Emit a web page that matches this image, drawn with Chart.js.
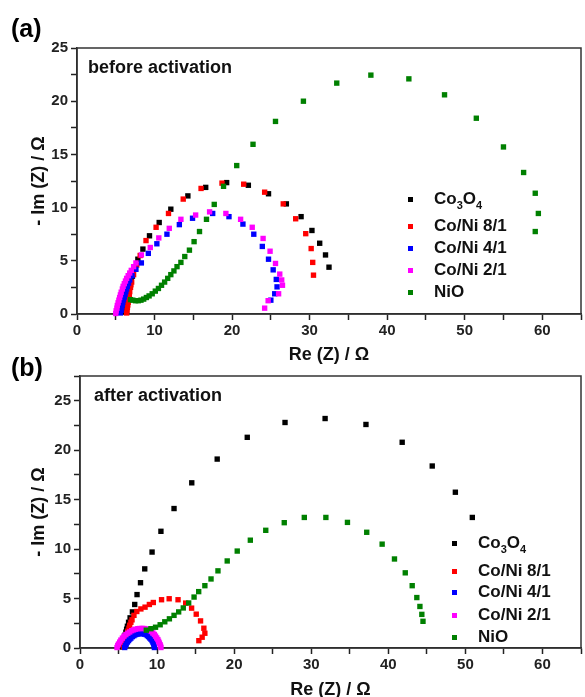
<!DOCTYPE html>
<html>
<head>
<meta charset="utf-8">
<script src="https://cdn.jsdelivr.net/npm/chart.js@4.4.1/dist/chart.umd.min.js"></script>
<style>
body { margin: 0; width: 585px; height: 697px; overflow: hidden; background: #fff; position: relative; font-family: "Liberation Sans", Arial, sans-serif; color: #111; }
.panel { position: absolute; left: 0; width: 585px; }
.tag { position: absolute; font-weight: bold; font-size: 25px; line-height: 1; color: #000; }
.cond { position: absolute; font-weight: bold; font-size: 18px; line-height: 1; }
.row { position: absolute; font-weight: bold; font-size: 17px; line-height: 1; white-space: nowrap; }
.row sub { font-size: 11px; vertical-align: -5px; line-height: 0; }
.mk { position: absolute; width: 5px; height: 5px; }
</style>
</head>
<body>
<div class="panel" style="top:0;height:370px"><canvas id="chartA"></canvas></div>
<div class="panel" style="top:345px;height:360px"><canvas id="chartB"></canvas></div>
<div class="tag" style="left:11px;top:16px">(a)</div>
<div class="tag" style="left:11px;top:355px">(b)</div>
<div class="cond" style="left:88px;top:58px">before activation</div>
<div class="cond" style="left:94px;top:386px">after activation</div>
<div id="legA"></div>
<div id="legB"></div>
<script>
// series names / colours
const names = ['Co<sub>3</sub>O<sub>4</sub>', 'Co/Ni 8/1', 'Co/Ni 4/1', 'Co/Ni 2/1', 'NiO'];
const plain = ['Co3O4', 'Co/Ni 8/1', 'Co/Ni 4/1', 'Co/Ni 2/1', 'NiO'];
const colors = ['#000000', '#ff0000', '#0000ff', '#ff00ff', '#008000'];

// (a) before activation: [Re(Z), -Im(Z)]
const a_Co3O4 = [[6.2,0.2],[6.3,0.5],[6.35,0.8],[6.45,1.1],[6.5,1.4],[6.6,1.7],[6.65,2.0],[6.75,2.3],[6.85,2.7],[7.0,3.1],[7.15,3.55],[7.45,4.3],[7.85,5.15],[8.5,6.1],[9.35,7.35],[10.6,8.6],[12.1,9.85],[14.3,11.1],[16.6,11.9],[19.3,12.35],[22.1,12.1],[24.7,11.3],[27.0,10.35],[28.9,9.15],[30.3,7.85],[31.3,6.65],[32.05,5.55],[32.5,4.4]];
const a_CoNi81 = [[6.4,0.1],[6.45,0.35],[6.5,0.6],[6.55,0.85],[6.6,1.1],[6.65,1.35],[6.7,1.6],[6.75,1.85],[6.8,2.1],[6.9,2.5],[6.95,2.75],[7.05,3.0],[7.3,3.7],[7.7,4.6],[8.15,5.5],[8.9,6.9],[10.2,8.15],[11.8,9.45],[13.7,10.8],[16.0,11.8],[18.7,12.3],[21.5,12.2],[24.2,11.45],[26.6,10.35],[28.2,8.95],[29.5,7.55],[30.2,6.15],[30.4,4.85],[30.5,3.65]];
const a_CoNi41 = [[5.6,0.1],[5.7,0.35],[5.75,0.6],[5.85,0.85],[5.9,1.1],[6.0,1.35],[6.1,1.6],[6.2,1.85],[6.3,2.1],[6.4,2.35],[6.5,2.6],[6.65,2.9],[6.8,3.2],[7.1,3.6],[7.6,4.2],[8.3,4.8],[9.2,5.7],[10.3,6.6],[11.6,7.5],[13.2,8.4],[14.9,9.0],[17.5,9.45],[19.6,9.15],[21.4,8.45],[22.8,7.5],[23.9,6.35],[24.7,5.15],[25.3,4.15],[25.7,3.25],[25.8,2.55],[25.5,1.9],[25.0,1.3]];
const a_CoNi21 = [[5.0,0.05],[5.05,0.3],[5.15,0.55],[5.2,0.8],[5.3,1.05],[5.4,1.3],[5.5,1.55],[5.6,1.8],[5.7,2.05],[5.85,2.35],[5.95,2.6],[6.1,2.85],[6.25,3.1],[6.4,3.35],[6.6,3.6],[6.8,3.85],[7.0,4.1],[7.3,4.45],[7.6,4.8],[8.3,5.55],[9.45,6.25],[10.55,7.15],[11.9,8.05],[13.4,8.9],[15.3,9.3],[17.1,9.6],[19.2,9.45],[21.1,8.9],[22.6,8.15],[24.0,7.1],[24.9,5.9],[25.6,4.75],[26.15,3.75],[26.4,3.2],[26.5,2.7],[26.0,1.9],[24.65,1.25],[24.2,0.55]];
const a_NiO = [[6.9,1.35],[7.2,1.3],[7.55,1.25],[7.9,1.25],[8.25,1.3],[8.6,1.4],[8.95,1.55],[9.3,1.7],[9.7,1.9],[10.1,2.15],[10.5,2.4],[10.9,2.7],[11.3,3.0],[11.7,3.35],[12.1,3.7],[12.5,4.05],[12.9,4.45],[13.4,4.85],[13.9,5.4],[14.5,6.0],[15.1,6.8],[15.8,7.75],[16.7,8.9],[17.7,10.3],[18.9,12.0],[20.6,13.95],[22.7,15.95],[25.6,18.1],[29.2,20.0],[33.5,21.7],[37.9,22.45],[42.8,22.1],[47.4,20.6],[51.5,18.4],[55.0,15.7],[57.6,13.3],[59.1,11.35],[59.5,9.45],[59.1,7.75]];

// (b) after activation
const b_Co3O4 = [[5.5,0.1],[5.6,0.4],[5.65,0.7],[5.75,1.0],[5.85,1.3],[5.95,1.6],[6.05,1.9],[6.15,2.2],[6.3,2.6],[6.5,3.05],[6.8,3.65],[7.1,4.4],[7.4,5.4],[7.85,6.6],[8.4,8.0],[9.35,9.7],[10.5,11.8],[12.2,14.1],[14.5,16.7],[17.8,19.1],[21.7,21.3],[26.6,22.8],[31.8,23.2],[37.1,22.6],[41.8,20.8],[45.7,18.4],[48.7,15.75],[50.9,13.2]];
const b_CoNi81 = [[5.7,0.1],[5.8,0.4],[5.9,0.75],[6.0,1.1],[6.1,1.4],[6.2,1.7],[6.35,2.0],[6.45,2.3],[6.6,2.6],[6.75,2.85],[7.0,3.3],[7.37,3.69],[7.9,3.95],[8.44,4.13],[9.0,4.4],[9.51,4.6],[10.58,4.88],[11.57,4.98],[12.72,4.88],[13.71,4.54],[14.48,4.03],[15.08,3.42],[15.64,2.74],[16.07,2.0],[16.2,1.49],[15.85,1.09],[15.42,0.74]];
const b_CoNi41 = [[5.8,0.05],[5.9,0.25],[6.0,0.4],[6.15,0.6],[6.3,0.75],[6.45,0.9],[6.6,1.0],[6.8,1.15],[7.0,1.25],[7.2,1.35],[7.4,1.4],[7.6,1.45],[7.8,1.45],[8.0,1.47],[8.2,1.45],[8.4,1.4],[8.6,1.35],[8.75,1.25],[8.9,1.15],[9.05,1.02],[9.2,0.9],[9.35,0.75],[9.45,0.6],[9.55,0.45],[9.6,0.3],[9.65,0.05]];
const b_CoNi21 = [[4.8,0.05],[4.9,0.25],[5.0,0.4],[5.15,0.6],[5.3,0.8],[5.5,1.0],[5.7,1.2],[5.95,1.35],[6.2,1.5],[6.45,1.62],[6.7,1.75],[6.95,1.83],[7.2,1.9],[7.5,1.95],[7.75,1.97],[8.05,1.98],[8.3,1.97],[8.55,1.93],[8.8,1.87],[9.05,1.78],[9.25,1.67],[9.45,1.52],[9.65,1.37],[9.8,1.2],[9.95,1.02],[10.1,0.85],[10.2,0.67],[10.3,0.5],[10.4,0.32],[10.45,0.18],[10.5,0.05]];
const b_NiO = [[8.6,1.8],[9.2,1.95],[9.8,2.1],[10.4,2.35],[11.0,2.65],[11.6,2.95],[12.2,3.3],[12.8,3.65],[13.4,4.05],[14.1,4.55],[14.8,5.15],[15.4,5.7],[16.2,6.3],[17.0,6.98],[17.9,7.8],[19.1,8.8],[20.4,9.8],[22.1,10.9],[24.1,11.9],[26.5,12.67],[29.1,13.2],[31.9,13.2],[34.7,12.7],[37.2,11.7],[39.2,10.5],[40.8,9.0],[42.2,7.6],[43.1,6.3],[43.7,5.1],[44.1,4.2],[44.35,3.4],[44.5,2.7]];

const seriesA = [a_Co3O4, a_CoNi81, a_CoNi41, a_CoNi21, a_NiO];
const seriesB = [b_Co3O4, b_CoNi81, b_CoNi41, b_CoNi21, b_NiO];

const xMax = 65;
const yMaxA = 25;
const yMaxB = 27.5;

const frame = {
    id: 'frame',
    beforeDatasetsDraw(chart) {
        const {ctx, chartArea: a} = chart;
        ctx.save();
        ctx.strokeStyle = '#333';
        ctx.lineWidth = 1.5;
        ctx.strokeRect(a.left, a.top, a.right - a.left, a.bottom - a.top);
        ctx.restore();
    }
};

function makeDatasets(series) {
    return series.map((pts, i) => ({
        label: plain[i],
        data: pts.map(p => ({x: p[0], y: p[1]})),
        backgroundColor: colors[i],
        borderColor: colors[i],
        pointStyle: 'rect',
        pointRadius: 3.8,
        pointBorderWidth: 0,
        showLine: false,
        clip: false,
        order: 4 - i,
    }));
}

function createChart(el, series, yMax, yWidth, padTop, padRight, xHeight) {
    const tickFont = {family: '"Liberation Sans", Arial, sans-serif', size: 15, weight: 'bold'};
    const titleFont = {family: '"Liberation Sans", Arial, sans-serif', size: 18, weight: 'bold'};
    return new Chart(el, {
        type: 'scatter',
        data: { datasets: makeDatasets(series) },
        options: {
            responsive: true,
            maintainAspectRatio: false,
            animation: false,
            events: [],
            layout: { padding: { top: padTop, right: padRight, left: 0, bottom: 0 } },
            plugins: { legend: { display: false }, tooltip: { enabled: false } },
            scales: {
                x: {
                    type: 'linear', min: 0, max: xMax,
                    afterFit: (s) => { s.height = xHeight; },
                    ticks: { stepSize: 5, autoSkip: false, maxRotation: 0, color: '#222', font: tickFont, padding: 2,
                        callback: (v) => (v % 10 === 0 ? v : '') },
                    grid: { drawOnChartArea: false, tickLength: 6, tickColor: '#222', tickWidth: 1.5 },
                    border: { color: '#222', width: 1.5 },
                    title: { display: true, text: 'Re (Z) / Ω', color: '#111', font: titleFont, padding: {top: 0, bottom: 4} },
                },
                y: {
                    type: 'linear', min: 0, max: yMax,
                    afterFit: (s) => { s.width = yWidth; },
                    ticks: { stepSize: 2.5, autoSkip: false, color: '#222', font: tickFont, padding: 3,
                        callback: (v) => (v % 5 === 0 ? v : '') },
                    grid: { drawOnChartArea: false, tickLength: 6, tickColor: '#222', tickWidth: 1.5 },
                    border: { color: '#222', width: 1.5 },
                    title: { display: true, text: '- Im (Z) / Ω', color: '#111', font: titleFont, padding: {top: 28, bottom: 0} },
                },
            },
        },
        plugins: [frame],
    });
}

function buildLegend(host, mx, my, gaps) {
    names.forEach((n, i) => {
        const y = my + gaps[i];
        const m = document.createElement('div');
        m.className = 'mk';
        m.style.left = (mx - 2.5) + 'px';
        m.style.top = (y - 2.5) + 'px';
        m.style.background = colors[i];
        host.appendChild(m);
        const t = document.createElement('div');
        t.className = 'row';
        t.style.left = (mx + 24) + 'px';
        t.style.top = (y - 9) + 'px';
        t.innerHTML = n;
        host.appendChild(t);
    });
}

createChart(document.getElementById('chartA'), seriesA, yMaxA, 77, 48, 1, 56);
createChart(document.getElementById('chartB'), seriesB, yMaxB, 80, 31, 0, 57);
buildLegend(document.getElementById('legA'), 410, 199, [0, 27, 49, 71, 93]);
buildLegend(document.getElementById('legB'), 454, 543, [0, 28, 49, 72, 94]);
</script>
</body>
</html>
